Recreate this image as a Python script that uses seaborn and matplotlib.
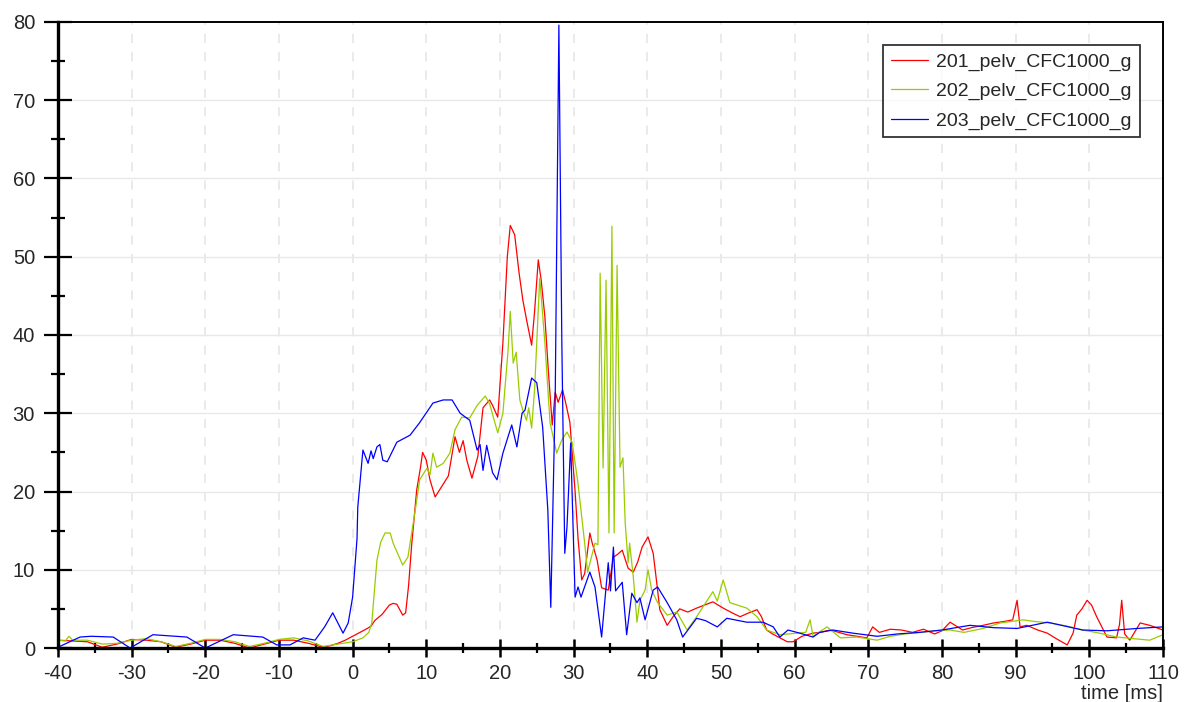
# -*- coding: utf-8 -*-
"""
Pelvis acceleration (CFC1000) of three tests plotted over time.
Values read off the reference picture.
"""

import pandas as pd
import matplotlib.pyplot as plt
from matplotlib.ticker import MultipleLocator
import seaborn as sns


series_names = ['201_pelv_CFC1000_g', '202_pelv_CFC1000_g', '203_pelv_CFC1000_g']
series_colors = ['#ff0000', '#99cc00', '#0000ff']

x_ticks = list(range(-40, 111, 10))
y_ticks = list(range(0, 81, 10))

# 201 - red
red_t = [-40, -38, -36, -34, -32, -30, -28, -26, -24, -22,
         -20, -18, -16, -14, -12, -10, -8, -6, -4, -3,
         -2, -1, 0, 1, 2, 2.5, 3, 4, 5, 5.5,
         6, 6.8, 7.2, 7.6, 8, 8.7, 9.2, 9.5, 10, 10.5,
         11.2, 12, 13, 13.9, 14.5, 15, 15.5, 16.2, 17, 17.7,
         18.6, 19, 19.7, 20.4, 21, 21.4, 22, 22.6, 23.1, 23.6,
         24.3, 24.7, 25.2, 25.6, 26.1, 26.6, 27.1, 27.5, 27.9, 28.5,
         29, 29.5, 30.2, 30.6, 31.1, 31.5, 32.2, 32.5, 33.2, 33.8,
         34.7, 35.4, 36, 36.6, 37.4, 38.1, 38.7, 39.3, 40.1, 40.8,
         41.2, 41.7, 42.7, 43.5, 44.4, 45.5, 46.7, 47.8, 48.9, 50.3,
         51.5, 52.6, 53.8, 54.9, 55.5, 56.2, 57, 58, 59, 59.8,
         61, 62.5, 63.5, 64.8, 66, 67.1, 68.5, 69.8, 70.6, 71.5,
         73, 74.5, 76, 77.5, 79, 80, 81.1, 82.8, 84, 85.6,
         87, 88.5, 89.6, 90.2, 90.6, 91.5, 93, 94.3, 95.5, 97,
         97.8, 98.3, 99, 99.7, 100.3, 101, 102.4, 103.7, 104.1, 104.4,
         104.8, 105.5, 106.9, 108.2, 110]
red_g = [1.0, 0.9, 0.8, 0.1, 0.5, 1.1, 1.0, 0.8, 0.1, 0.5,
         1.0, 1.0, 0.6, 0.0, 0.5, 1.0, 1.0, 0.6, 0.1, 0.3,
         0.6, 1.0, 1.5, 2.0, 2.5, 2.8, 3.5, 4.3, 5.5, 5.7,
         5.6, 4.2, 4.5, 8, 13, 20.2, 23, 25, 24, 21.5,
         19.3, 20.5, 22, 27, 25, 26.5, 24, 21.7, 24.5, 30.7,
         31.7, 31, 29.5, 39, 50, 54, 52.8, 47.9, 44.5, 42,
         38.7, 43, 49.6, 47, 42.3, 35, 28.5, 32.7, 31.4, 33,
         31, 28.8, 20, 14, 8.7, 9.5, 14.7, 13.5, 11.2, 7.7,
         7.4, 11.6, 12, 12.5, 10.2, 9.7, 11, 12.9, 14.2, 12.1,
         9, 4.9, 2.9, 4.0, 5.0, 4.6, 5.1, 5.5, 5.9, 5.1,
         4.5, 4.0, 4.5, 4.9, 4.0, 2.3, 1.8, 1.3, 0.8, 0.8,
         1.5, 1.9, 2.0, 2.3, 2.0, 1.7, 1.5, 1.3, 2.7, 2.0,
         2.4, 2.3, 2.0, 2.4, 1.8, 2.2, 3.3, 2.3, 2.6, 2.9,
         3.2, 3.4, 3.6, 6.1, 2.7, 2.9, 2.3, 1.9, 1.2, 0.4,
         1.9, 4.2, 5.0, 6.1, 5.5, 4.0, 1.4, 1.3, 3.0, 6.1,
         1.8, 1.0, 3.2, 2.9, 2.3]

# 202 - green
green_t = [-40, -39, -38.5, -38, -36, -34, -32, -30, -28, -26,
           -24, -22, -20, -18, -16, -14, -12, -10, -8, -6,
           -4, -2, 0, 1.4, 2.2, 2.6, 3.3, 3.8, 4.4, 5.1,
           5.5, 6.8, 7.5, 8.5, 9.1, 10.1, 10.5, 10.9, 11.4, 12.3,
           13.2, 13.9, 14.8, 15.9, 16.9, 18, 18.6, 19.7, 20.4, 21.1,
           21.4, 21.8, 22.2, 22.7, 23.1, 23.6, 23.9, 24.3, 24.7, 25.4,
           26.1, 26.8, 27.7, 28.4, 29.1, 29.8, 30.6, 31.5, 31.9, 32.9,
           33.3, 33.6, 34.0, 34.4, 34.8, 35.2, 35.5, 35.9, 36.3, 36.7,
           37.0, 37.2, 37.4, 37.6, 38.1, 38.6, 39.0, 39.7, 40.1, 40.6,
           41.4, 42.7, 44, 45.4, 46.7, 48.9, 49.5, 50.3, 51.2, 53.5,
           54.9, 56.2, 58, 60.3, 61.5, 62.1, 62.5, 64.4, 66.2, 68.5,
           71.2, 73, 75, 77, 79, 81.1, 83, 85.6, 87.9, 89.5,
           91, 92.5, 94.7, 97, 99.1, 101.4, 103.7, 106, 108.2, 110]
green_g = [1.0, 0.9, 1.5, 1.0, 1.0, 0.5, 0.6, 1.0, 1.2, 0.8,
           0.2, 0.6, 1.1, 1.1, 0.8, 0.2, 0.6, 1.1, 1.3, 0.9,
           0.2, 0.5, 0.8, 1.3, 2.0, 3.2, 11.2, 13.5, 14.7, 14.7,
           13.4, 10.6, 11.6, 17.6, 21.5, 23, 22.1, 24.9, 23.1, 23.6,
           24.9, 27.9, 29.5, 29.4, 31, 32.2, 31.2, 27.5, 30, 38,
           43, 36.4, 37.8, 31.7, 30.4, 29.1, 30.7, 28.1, 33, 47.3,
           39, 28.8, 24.9, 26.6, 27.6, 26.3, 21, 13.4, 9.7, 13.4,
           13.2, 47.9, 23, 47, 14.7, 53.9, 14.7, 48.9, 23.1, 24.3,
           16, 13.4, 10.9, 13.4, 9.1, 3.3, 6.1, 7.4, 10, 7.4,
           5.8, 4.2, 4.6, 2.3, 4.0, 7.2, 6.0, 8.7, 5.8, 5.1,
           4.0, 2.3, 1.7, 1.9, 2.0, 3.6, 1.5, 2.7, 1.3, 1.4,
           1.0, 1.5, 1.8, 2.0, 2.2, 2.3, 2.0, 2.5, 3.2, 3.4,
           3.6, 3.4, 3.2, 2.8, 2.3, 1.9, 1.4, 1.2, 1.0, 1.7]

# 203 - blue
blue_t = [-40, -37, -35.5, -32.5, -30.2, -27.1, -22.5, -20, -16.2, -12.2,
          -10.3, -8.5, -6.7, -5.1, -3.8, -2.7, -1.3, -0.6, 0, 0.6,
          0.7, 1.4, 2.1, 2.5, 2.8, 3.3, 3.7, 4.1, 4.7, 6,
          7.8, 9.1, 10.9, 12.3, 13.5, 14.6, 15.9, 16.9, 17.3, 17.7,
          18.2, 19.0, 19.6, 20.4, 21.6, 22.3, 23, 23.4, 24.3, 25.0,
          25.8, 26.5, 26.9, 27.5, 28.0, 28.4, 28.8, 29.1, 29.6, 30.2,
          30.6, 31.0, 32.2, 32.9, 33.8, 34.7, 35, 35.4, 35.7, 36.6,
          37.2, 37.9, 38.6, 39.0, 39.7, 40.8, 41.4, 42.7, 44, 44.8,
          46.7, 47.9, 49.5, 50.8, 53.5, 55.7, 57.1, 58, 59.1, 60.7,
          62.5, 63.4, 65.2, 67.9, 71.2, 74, 77, 80, 83.8, 87,
          90.2, 94.3, 99.1, 102.4, 106.5, 110]
blue_g = [0.1, 1.4, 1.5, 1.4, 0.0, 1.7, 1.4, 0.0, 1.7, 1.4,
          0.4, 0.4, 1.3, 1.0, 2.7, 4.5, 1.9, 3.2, 6.5, 14,
          18, 25.3, 23.6, 25.2, 24.2, 25.7, 26, 24, 23.8, 26.3,
          27.2, 28.8, 31.3, 31.7, 31.7, 30, 29.1, 25.3, 26, 22.7,
          25.9, 22.4, 21.5, 24.9, 28.5, 25.7, 30, 30.4, 34.5, 33.9,
          28.2, 17.6, 5.2, 32, 79.6, 39, 12.1, 15.5, 26.2, 6.5,
          7.8, 6.5, 9.7, 7.8, 1.4, 10.9, 7.3, 12.9, 7.3, 8.4,
          1.7, 7, 5.8, 6.4, 3.6, 7.4, 7.8, 5.8, 3.6, 1.4,
          3.8, 3.5, 2.7, 3.8, 3.3, 3.3, 2.7, 1.4, 2.3, 1.9,
          1.4, 2.0, 2.3, 1.9, 1.5, 1.8, 2.0, 2.3, 2.9, 2.6,
          2.5, 3.3, 2.3, 2.2, 2.5, 2.7]


def build_frame():
    """Long-form table with one row per sample."""
    parts = []
    for name, t, g in zip(series_names, [red_t, green_t, blue_t],
                          [red_g, green_g, blue_g]):
        parts.append(pd.DataFrame({'time': t, 'g': g, 'channel': name}))
    return pd.concat(parts, ignore_index=True)


def main():
    sns.set_theme(style='white')
    plt.rcParams['font.family'] = ['Liberation Sans', 'DejaVu Sans']
    plt.rcParams['axes.unicode_minus'] = False

    data = build_frame()
    fig = plt.figure(figsize=(11.85, 7.02), dpi=100)
    ax = fig.add_axes([0.0489, 0.0769, 0.9325, 0.8918])

    sns.lineplot(data=data, x='time', y='g', hue='channel',
                 palette=dict(zip(series_names, series_colors)),
                 estimator=None, sort=True, linewidth=0.9, ax=ax)

    ax.set_xlim(-40, 110)
    ax.set_ylim(0, 80)
    ax.set_xticks(x_ticks)
    ax.set_yticks(y_ticks)
    ax.xaxis.set_minor_locator(MultipleLocator(5))
    ax.yaxis.set_minor_locator(MultipleLocator(5))

    # grid: dashed verticals, solid horizontals
    ax.grid(False)
    for xv in x_ticks[1:-1]:
        ax.axvline(xv, color='#e4e4e4', lw=1.1, ls=(0, (6, 6)), zorder=0)
    for yv in y_ticks[1:-1]:
        ax.axhline(yv, color='#e8e8e8', lw=1.0, zorder=0)

    for side in ['left', 'bottom']:
        ax.spines[side].set_linewidth(2.4)
        ax.spines[side].set_color('black')
    for side in ['top', 'right']:
        ax.spines[side].set_linewidth(1.4)
        ax.spines[side].set_color('black')
        ax.spines[side].set_visible(True)

    ax.tick_params(axis='y', which='major', direction='inout', length=20,
                   width=1.6, color='black', labelsize=14.5, pad=6.5,
                   left=True)
    ax.tick_params(axis='y', which='minor', direction='inout', length=10,
                   width=1.6, color='black', left=True)
    ax.tick_params(axis='x', which='major', direction='inout', length=13,
                   width=1.8, color='black', labelsize=14.5, pad=5,
                   bottom=True)
    ax.tick_params(axis='x', which='minor', direction='inout', length=7,
                   width=1.6, color='black', bottom=True)

    ax.set_ylabel('')
    ax.set_xlabel('time [ms]', loc='right', fontsize=14.5, labelpad=1)

    leg = ax.legend(loc='upper right', bbox_to_anchor=(0.979, 0.963),
                    borderaxespad=0, fontsize=14, frameon=True,
                    fancybox=False, borderpad=0.4, labelspacing=0.6,
                    handlelength=1.9, handletextpad=0.45)
    leg.get_frame().set_edgecolor('black')
    leg.get_frame().set_linewidth(1.3)
    for line in leg.get_lines():
        line.set_linewidth(0.9)

    fig.savefig('out.png', dpi=100)
    plt.close('all')


if __name__ == '__main__':
    main()
